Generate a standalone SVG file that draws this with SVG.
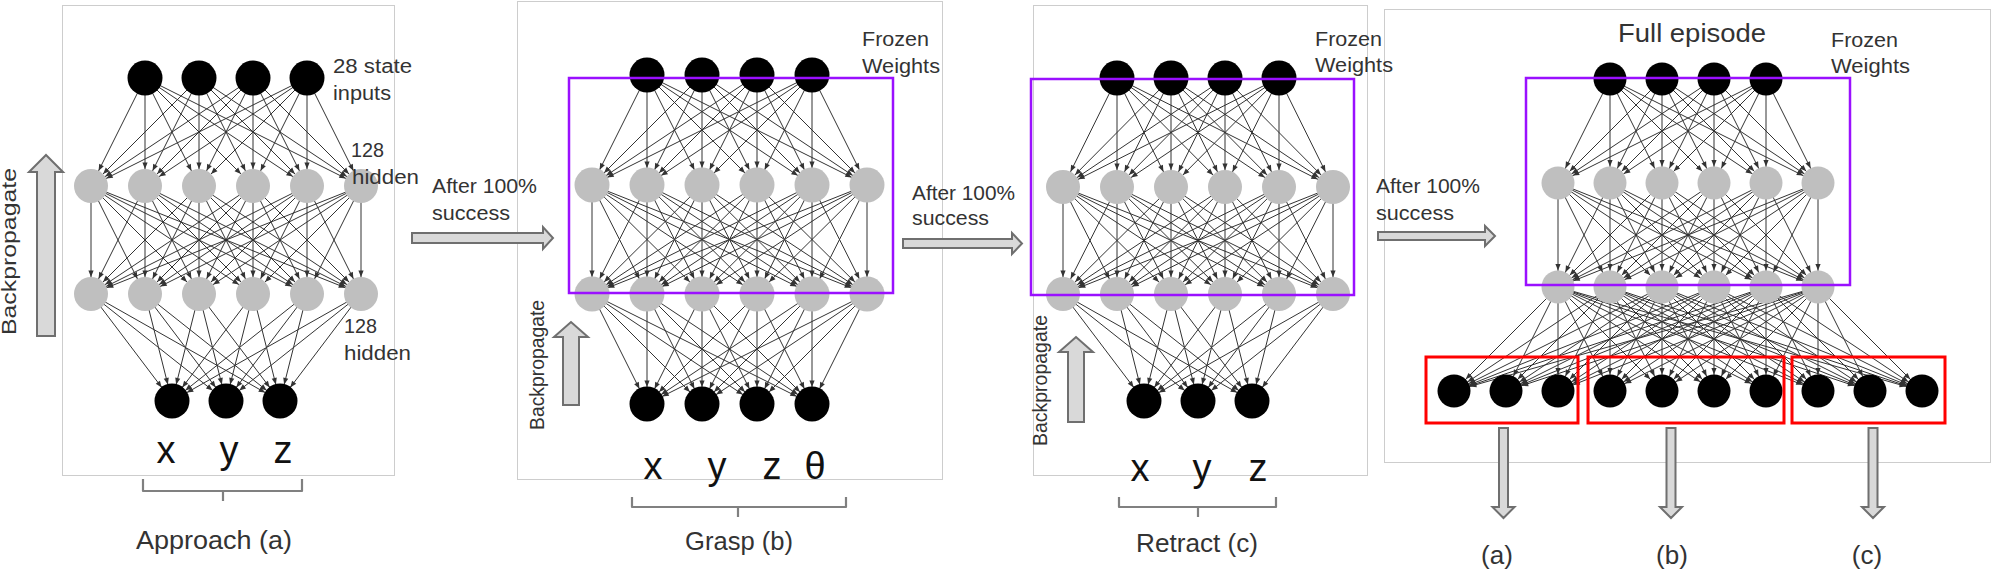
<svg xmlns="http://www.w3.org/2000/svg" width="1991" height="571" viewBox="0 0 1991 571">
<style>
.frame{fill:none;stroke:#cdcdcd;stroke-width:1}
.blk{fill:#000}
.gry{fill:#bfbfbf}
.e path{fill:none;stroke:#333;stroke-width:1;marker-end:url(#ah)}
.e4 path{fill:none;stroke:#333;stroke-width:1;marker-end:url(#ah4)}
.purple{fill:none;stroke:#9a10ff;stroke-width:2.5}
.red{fill:none;stroke:#ff0000;stroke-width:3}
.big{fill:#d9d9d9;stroke:#6f6f6f;stroke-width:2}
.brk{fill:none;stroke:#808080;stroke-width:2.2;stroke-linejoin:round}
.t{font-family:"Liberation Sans",Arial,sans-serif;fill:#333;font-size:20px}
.lab{font-family:"Liberation Sans",Arial,sans-serif;fill:#333;font-size:26px;text-anchor:middle}
.var{font-family:"Liberation Sans",Arial,sans-serif;fill:#111;font-size:38px;text-anchor:middle}
</style>
<defs>
<marker id="ah" markerUnits="userSpaceOnUse" markerWidth="8" markerHeight="8" refX="17" refY="0" orient="auto" overflow="visible"><path d="M0,0L-6.5,-2.6L-6.5,2.6Z" fill="#333"/></marker>
<marker id="ah4" markerUnits="userSpaceOnUse" markerWidth="8" markerHeight="8" refX="16.5" refY="0" orient="auto" overflow="visible"><path d="M0,0L-6.5,-2.6L-6.5,2.6Z" fill="#333"/></marker>
</defs>
<rect width="1991" height="571" fill="#fff"/>
<g id="frames">
<rect class="frame" x="62.5" y="5.5" width="332" height="470"/>
<rect class="frame" x="517.5" y="1.5" width="425" height="478"/>
<rect class="frame" x="1033.5" y="5.5" width="334" height="470"/>
<rect class="frame" x="1384.5" y="9.5" width="606" height="453"/>
</g>
<g id="connectors">
<g id="p1-edges" class="e" transform="translate(226,0)">
<path d="M-81 78L-135 186"/><path d="M-81 78L-81 186"/><path d="M-81 78L-27 186"/><path d="M-81 78L27 186"/><path d="M-81 78L81 186"/><path d="M-81 78L135 186"/>
<path d="M-27 78L-135 186"/><path d="M-27 78L-81 186"/><path d="M-27 78L-27 186"/><path d="M-27 78L27 186"/><path d="M-27 78L81 186"/><path d="M-27 78L135 186"/>
<path d="M27 78L-135 186"/><path d="M27 78L-81 186"/><path d="M27 78L-27 186"/><path d="M27 78L27 186"/><path d="M27 78L81 186"/><path d="M27 78L135 186"/>
<path d="M81 78L-135 186"/><path d="M81 78L-81 186"/><path d="M81 78L-27 186"/><path d="M81 78L27 186"/><path d="M81 78L81 186"/><path d="M81 78L135 186"/>
<path d="M-135 186L-135 294"/><path d="M-135 186L-81 294"/><path d="M-135 186L-27 294"/><path d="M-135 186L27 294"/><path d="M-135 186L81 294"/><path d="M-135 186L135 294"/>
<path d="M-81 186L-135 294"/><path d="M-81 186L-81 294"/><path d="M-81 186L-27 294"/><path d="M-81 186L27 294"/><path d="M-81 186L81 294"/><path d="M-81 186L135 294"/>
<path d="M-27 186L-135 294"/><path d="M-27 186L-81 294"/><path d="M-27 186L-27 294"/><path d="M-27 186L27 294"/><path d="M-27 186L81 294"/><path d="M-27 186L135 294"/>
<path d="M27 186L-135 294"/><path d="M27 186L-81 294"/><path d="M27 186L-27 294"/><path d="M27 186L27 294"/><path d="M27 186L81 294"/><path d="M27 186L135 294"/>
<path d="M81 186L-135 294"/><path d="M81 186L-81 294"/><path d="M81 186L-27 294"/><path d="M81 186L27 294"/><path d="M81 186L81 294"/><path d="M81 186L135 294"/>
<path d="M135 186L-135 294"/><path d="M135 186L-81 294"/><path d="M135 186L-27 294"/><path d="M135 186L27 294"/><path d="M135 186L81 294"/><path d="M135 186L135 294"/>
<path d="M-135 294L-54 401"/><path d="M-135 294L0 401"/><path d="M-135 294L54 401"/>
<path d="M-81 294L-54 401"/><path d="M-81 294L0 401"/><path d="M-81 294L54 401"/>
<path d="M-27 294L-54 401"/><path d="M-27 294L0 401"/><path d="M-27 294L54 401"/>
<path d="M27 294L-54 401"/><path d="M27 294L0 401"/><path d="M27 294L54 401"/>
<path d="M81 294L-54 401"/><path d="M81 294L0 401"/><path d="M81 294L54 401"/>
<path d="M135 294L-54 401"/><path d="M135 294L0 401"/><path d="M135 294L54 401"/>
</g>
<g id="p2-edges" class="e" transform="translate(729.5,0)">
<path d="M-82.5 75L-137.5 185"/><path d="M-82.5 75L-82.5 185"/><path d="M-82.5 75L-27.5 185"/><path d="M-82.5 75L27.5 185"/><path d="M-82.5 75L82.5 185"/><path d="M-82.5 75L137.5 185"/>
<path d="M-27.5 75L-137.5 185"/><path d="M-27.5 75L-82.5 185"/><path d="M-27.5 75L-27.5 185"/><path d="M-27.5 75L27.5 185"/><path d="M-27.5 75L82.5 185"/><path d="M-27.5 75L137.5 185"/>
<path d="M27.5 75L-137.5 185"/><path d="M27.5 75L-82.5 185"/><path d="M27.5 75L-27.5 185"/><path d="M27.5 75L27.5 185"/><path d="M27.5 75L82.5 185"/><path d="M27.5 75L137.5 185"/>
<path d="M82.5 75L-137.5 185"/><path d="M82.5 75L-82.5 185"/><path d="M82.5 75L-27.5 185"/><path d="M82.5 75L27.5 185"/><path d="M82.5 75L82.5 185"/><path d="M82.5 75L137.5 185"/>
<path d="M-137.5 185L-137.5 294"/><path d="M-137.5 185L-82.5 294"/><path d="M-137.5 185L-27.5 294"/><path d="M-137.5 185L27.5 294"/><path d="M-137.5 185L82.5 294"/><path d="M-137.5 185L137.5 294"/>
<path d="M-82.5 185L-137.5 294"/><path d="M-82.5 185L-82.5 294"/><path d="M-82.5 185L-27.5 294"/><path d="M-82.5 185L27.5 294"/><path d="M-82.5 185L82.5 294"/><path d="M-82.5 185L137.5 294"/>
<path d="M-27.5 185L-137.5 294"/><path d="M-27.5 185L-82.5 294"/><path d="M-27.5 185L-27.5 294"/><path d="M-27.5 185L27.5 294"/><path d="M-27.5 185L82.5 294"/><path d="M-27.5 185L137.5 294"/>
<path d="M27.5 185L-137.5 294"/><path d="M27.5 185L-82.5 294"/><path d="M27.5 185L-27.5 294"/><path d="M27.5 185L27.5 294"/><path d="M27.5 185L82.5 294"/><path d="M27.5 185L137.5 294"/>
<path d="M82.5 185L-137.5 294"/><path d="M82.5 185L-82.5 294"/><path d="M82.5 185L-27.5 294"/><path d="M82.5 185L27.5 294"/><path d="M82.5 185L82.5 294"/><path d="M82.5 185L137.5 294"/>
<path d="M137.5 185L-137.5 294"/><path d="M137.5 185L-82.5 294"/><path d="M137.5 185L-27.5 294"/><path d="M137.5 185L27.5 294"/><path d="M137.5 185L82.5 294"/><path d="M137.5 185L137.5 294"/>
<path d="M-137.5 294L-82.5 404"/><path d="M-137.5 294L-27.5 404"/><path d="M-137.5 294L27.5 404"/><path d="M-137.5 294L82.5 404"/>
<path d="M-82.5 294L-82.5 404"/><path d="M-82.5 294L-27.5 404"/><path d="M-82.5 294L27.5 404"/><path d="M-82.5 294L82.5 404"/>
<path d="M-27.5 294L-82.5 404"/><path d="M-27.5 294L-27.5 404"/><path d="M-27.5 294L27.5 404"/><path d="M-27.5 294L82.5 404"/>
<path d="M27.5 294L-82.5 404"/><path d="M27.5 294L-27.5 404"/><path d="M27.5 294L27.5 404"/><path d="M27.5 294L82.5 404"/>
<path d="M82.5 294L-82.5 404"/><path d="M82.5 294L-27.5 404"/><path d="M82.5 294L27.5 404"/><path d="M82.5 294L82.5 404"/>
<path d="M137.5 294L-82.5 404"/><path d="M137.5 294L-27.5 404"/><path d="M137.5 294L27.5 404"/><path d="M137.5 294L82.5 404"/>
</g>
<g id="p3-edges" class="e" transform="translate(1198,0)">
<path d="M-81 78L-135 187"/><path d="M-81 78L-81 187"/><path d="M-81 78L-27 187"/><path d="M-81 78L27 187"/><path d="M-81 78L81 187"/><path d="M-81 78L135 187"/>
<path d="M-27 78L-135 187"/><path d="M-27 78L-81 187"/><path d="M-27 78L-27 187"/><path d="M-27 78L27 187"/><path d="M-27 78L81 187"/><path d="M-27 78L135 187"/>
<path d="M27 78L-135 187"/><path d="M27 78L-81 187"/><path d="M27 78L-27 187"/><path d="M27 78L27 187"/><path d="M27 78L81 187"/><path d="M27 78L135 187"/>
<path d="M81 78L-135 187"/><path d="M81 78L-81 187"/><path d="M81 78L-27 187"/><path d="M81 78L27 187"/><path d="M81 78L81 187"/><path d="M81 78L135 187"/>
<path d="M-135 187L-135 294"/><path d="M-135 187L-81 294"/><path d="M-135 187L-27 294"/><path d="M-135 187L27 294"/><path d="M-135 187L81 294"/><path d="M-135 187L135 294"/>
<path d="M-81 187L-135 294"/><path d="M-81 187L-81 294"/><path d="M-81 187L-27 294"/><path d="M-81 187L27 294"/><path d="M-81 187L81 294"/><path d="M-81 187L135 294"/>
<path d="M-27 187L-135 294"/><path d="M-27 187L-81 294"/><path d="M-27 187L-27 294"/><path d="M-27 187L27 294"/><path d="M-27 187L81 294"/><path d="M-27 187L135 294"/>
<path d="M27 187L-135 294"/><path d="M27 187L-81 294"/><path d="M27 187L-27 294"/><path d="M27 187L27 294"/><path d="M27 187L81 294"/><path d="M27 187L135 294"/>
<path d="M81 187L-135 294"/><path d="M81 187L-81 294"/><path d="M81 187L-27 294"/><path d="M81 187L27 294"/><path d="M81 187L81 294"/><path d="M81 187L135 294"/>
<path d="M135 187L-135 294"/><path d="M135 187L-81 294"/><path d="M135 187L-27 294"/><path d="M135 187L27 294"/><path d="M135 187L81 294"/><path d="M135 187L135 294"/>
<path d="M-135 294L-54 401"/><path d="M-135 294L0 401"/><path d="M-135 294L54 401"/>
<path d="M-81 294L-54 401"/><path d="M-81 294L0 401"/><path d="M-81 294L54 401"/>
<path d="M-27 294L-54 401"/><path d="M-27 294L0 401"/><path d="M-27 294L54 401"/>
<path d="M27 294L-54 401"/><path d="M27 294L0 401"/><path d="M27 294L54 401"/>
<path d="M81 294L-54 401"/><path d="M81 294L0 401"/><path d="M81 294L54 401"/>
<path d="M135 294L-54 401"/><path d="M135 294L0 401"/><path d="M135 294L54 401"/>
</g>
<g id="p4-edges" class="e4" transform="translate(1688,0)">
<path d="M-78 79L-130 183"/><path d="M-78 79L-78 183"/><path d="M-78 79L-26 183"/><path d="M-78 79L26 183"/><path d="M-78 79L78 183"/><path d="M-78 79L130 183"/>
<path d="M-26 79L-130 183"/><path d="M-26 79L-78 183"/><path d="M-26 79L-26 183"/><path d="M-26 79L26 183"/><path d="M-26 79L78 183"/><path d="M-26 79L130 183"/>
<path d="M26 79L-130 183"/><path d="M26 79L-78 183"/><path d="M26 79L-26 183"/><path d="M26 79L26 183"/><path d="M26 79L78 183"/><path d="M26 79L130 183"/>
<path d="M78 79L-130 183"/><path d="M78 79L-78 183"/><path d="M78 79L-26 183"/><path d="M78 79L26 183"/><path d="M78 79L78 183"/><path d="M78 79L130 183"/>
<path d="M-130 183L-130 287"/><path d="M-130 183L-78 287"/><path d="M-130 183L-26 287"/><path d="M-130 183L26 287"/><path d="M-130 183L78 287"/><path d="M-130 183L130 287"/>
<path d="M-78 183L-130 287"/><path d="M-78 183L-78 287"/><path d="M-78 183L-26 287"/><path d="M-78 183L26 287"/><path d="M-78 183L78 287"/><path d="M-78 183L130 287"/>
<path d="M-26 183L-130 287"/><path d="M-26 183L-78 287"/><path d="M-26 183L-26 287"/><path d="M-26 183L26 287"/><path d="M-26 183L78 287"/><path d="M-26 183L130 287"/>
<path d="M26 183L-130 287"/><path d="M26 183L-78 287"/><path d="M26 183L-26 287"/><path d="M26 183L26 287"/><path d="M26 183L78 287"/><path d="M26 183L130 287"/>
<path d="M78 183L-130 287"/><path d="M78 183L-78 287"/><path d="M78 183L-26 287"/><path d="M78 183L26 287"/><path d="M78 183L78 287"/><path d="M78 183L130 287"/>
<path d="M130 183L-130 287"/><path d="M130 183L-78 287"/><path d="M130 183L-26 287"/><path d="M130 183L26 287"/><path d="M130 183L78 287"/><path d="M130 183L130 287"/>
<path d="M-130 287L-234 391"/><path d="M-130 287L-182 391"/><path d="M-130 287L-130 391"/><path d="M-130 287L-78 391"/><path d="M-130 287L-26 391"/><path d="M-130 287L26 391"/><path d="M-130 287L78 391"/><path d="M-130 287L130 391"/><path d="M-130 287L182 391"/><path d="M-130 287L234 391"/>
<path d="M-78 287L-234 391"/><path d="M-78 287L-182 391"/><path d="M-78 287L-130 391"/><path d="M-78 287L-78 391"/><path d="M-78 287L-26 391"/><path d="M-78 287L26 391"/><path d="M-78 287L78 391"/><path d="M-78 287L130 391"/><path d="M-78 287L182 391"/><path d="M-78 287L234 391"/>
<path d="M-26 287L-234 391"/><path d="M-26 287L-182 391"/><path d="M-26 287L-130 391"/><path d="M-26 287L-78 391"/><path d="M-26 287L-26 391"/><path d="M-26 287L26 391"/><path d="M-26 287L78 391"/><path d="M-26 287L130 391"/><path d="M-26 287L182 391"/><path d="M-26 287L234 391"/>
<path d="M26 287L-234 391"/><path d="M26 287L-182 391"/><path d="M26 287L-130 391"/><path d="M26 287L-78 391"/><path d="M26 287L-26 391"/><path d="M26 287L26 391"/><path d="M26 287L78 391"/><path d="M26 287L130 391"/><path d="M26 287L182 391"/><path d="M26 287L234 391"/>
<path d="M78 287L-234 391"/><path d="M78 287L-182 391"/><path d="M78 287L-130 391"/><path d="M78 287L-78 391"/><path d="M78 287L-26 391"/><path d="M78 287L26 391"/><path d="M78 287L78 391"/><path d="M78 287L130 391"/><path d="M78 287L182 391"/><path d="M78 287L234 391"/>
<path d="M130 287L-234 391"/><path d="M130 287L-182 391"/><path d="M130 287L-130 391"/><path d="M130 287L-78 391"/><path d="M130 287L-26 391"/><path d="M130 287L26 391"/><path d="M130 287L78 391"/><path d="M130 287L130 391"/><path d="M130 287L182 391"/><path d="M130 287L234 391"/>
</g>
</g>
<g id="p1-nodes" transform="translate(226,0)">
<g id="p1-in1"><circle class="blk" cx="-81" cy="78" r="17.5"/></g>
<g id="p1-in2"><circle class="blk" cx="-27" cy="78" r="17.5"/></g>
<g id="p1-in3"><circle class="blk" cx="27" cy="78" r="17.5"/></g>
<g id="p1-in4"><circle class="blk" cx="81" cy="78" r="17.5"/></g>
<g id="p1-h1a"><circle class="gry" cx="-135" cy="186" r="17"/></g>
<g id="p1-h1b"><circle class="gry" cx="-81" cy="186" r="17"/></g>
<g id="p1-h1c"><circle class="gry" cx="-27" cy="186" r="17"/></g>
<g id="p1-h1d"><circle class="gry" cx="27" cy="186" r="17"/></g>
<g id="p1-h1e"><circle class="gry" cx="81" cy="186" r="17"/></g>
<g id="p1-h1f"><circle class="gry" cx="135" cy="186" r="17"/></g>
<g id="p1-h2a"><circle class="gry" cx="-135" cy="294" r="17"/></g>
<g id="p1-h2b"><circle class="gry" cx="-81" cy="294" r="17"/></g>
<g id="p1-h2c"><circle class="gry" cx="-27" cy="294" r="17"/></g>
<g id="p1-h2d"><circle class="gry" cx="27" cy="294" r="17"/></g>
<g id="p1-h2e"><circle class="gry" cx="81" cy="294" r="17"/></g>
<g id="p1-h2f"><circle class="gry" cx="135" cy="294" r="17"/></g>
<g id="p1-out1"><circle class="blk" cx="-54" cy="401" r="17.5"/></g>
<g id="p1-out2"><circle class="blk" cx="0" cy="401" r="17.5"/></g>
<g id="p1-out3"><circle class="blk" cx="54" cy="401" r="17.5"/></g>
</g>
<g id="p2-nodes" transform="translate(729.5,0)">
<g id="p2-in1"><circle class="blk" cx="-82.5" cy="75" r="17.5"/></g>
<g id="p2-in2"><circle class="blk" cx="-27.5" cy="75" r="17.5"/></g>
<g id="p2-in3"><circle class="blk" cx="27.5" cy="75" r="17.5"/></g>
<g id="p2-in4"><circle class="blk" cx="82.5" cy="75" r="17.5"/></g>
<g id="p2-h1a"><circle class="gry" cx="-137.5" cy="185" r="17.5"/></g>
<g id="p2-h1b"><circle class="gry" cx="-82.5" cy="185" r="17.5"/></g>
<g id="p2-h1c"><circle class="gry" cx="-27.5" cy="185" r="17.5"/></g>
<g id="p2-h1d"><circle class="gry" cx="27.5" cy="185" r="17.5"/></g>
<g id="p2-h1e"><circle class="gry" cx="82.5" cy="185" r="17.5"/></g>
<g id="p2-h1f"><circle class="gry" cx="137.5" cy="185" r="17.5"/></g>
<g id="p2-h2a"><circle class="gry" cx="-137.5" cy="294" r="17.5"/></g>
<g id="p2-h2b"><circle class="gry" cx="-82.5" cy="294" r="17.5"/></g>
<g id="p2-h2c"><circle class="gry" cx="-27.5" cy="294" r="17.5"/></g>
<g id="p2-h2d"><circle class="gry" cx="27.5" cy="294" r="17.5"/></g>
<g id="p2-h2e"><circle class="gry" cx="82.5" cy="294" r="17.5"/></g>
<g id="p2-h2f"><circle class="gry" cx="137.5" cy="294" r="17.5"/></g>
<g id="p2-out1"><circle class="blk" cx="-82.5" cy="404" r="17.5"/></g>
<g id="p2-out2"><circle class="blk" cx="-27.5" cy="404" r="17.5"/></g>
<g id="p2-out3"><circle class="blk" cx="27.5" cy="404" r="17.5"/></g>
<g id="p2-out4"><circle class="blk" cx="82.5" cy="404" r="17.5"/></g>
</g>
<g id="p3-nodes" transform="translate(1198,0)">
<g id="p3-in1"><circle class="blk" cx="-81" cy="78" r="17.5"/></g>
<g id="p3-in2"><circle class="blk" cx="-27" cy="78" r="17.5"/></g>
<g id="p3-in3"><circle class="blk" cx="27" cy="78" r="17.5"/></g>
<g id="p3-in4"><circle class="blk" cx="81" cy="78" r="17.5"/></g>
<g id="p3-h1a"><circle class="gry" cx="-135" cy="187" r="17"/></g>
<g id="p3-h1b"><circle class="gry" cx="-81" cy="187" r="17"/></g>
<g id="p3-h1c"><circle class="gry" cx="-27" cy="187" r="17"/></g>
<g id="p3-h1d"><circle class="gry" cx="27" cy="187" r="17"/></g>
<g id="p3-h1e"><circle class="gry" cx="81" cy="187" r="17"/></g>
<g id="p3-h1f"><circle class="gry" cx="135" cy="187" r="17"/></g>
<g id="p3-h2a"><circle class="gry" cx="-135" cy="294" r="17"/></g>
<g id="p3-h2b"><circle class="gry" cx="-81" cy="294" r="17"/></g>
<g id="p3-h2c"><circle class="gry" cx="-27" cy="294" r="17"/></g>
<g id="p3-h2d"><circle class="gry" cx="27" cy="294" r="17"/></g>
<g id="p3-h2e"><circle class="gry" cx="81" cy="294" r="17"/></g>
<g id="p3-h2f"><circle class="gry" cx="135" cy="294" r="17"/></g>
<g id="p3-out1"><circle class="blk" cx="-54" cy="401" r="17.5"/></g>
<g id="p3-out2"><circle class="blk" cx="0" cy="401" r="17.5"/></g>
<g id="p3-out3"><circle class="blk" cx="54" cy="401" r="17.5"/></g>
</g>
<g id="p4-nodes" transform="translate(1688,0)">
<g id="p4-in1"><circle class="blk" cx="-78" cy="79" r="16.5"/></g>
<g id="p4-in2"><circle class="blk" cx="-26" cy="79" r="16.5"/></g>
<g id="p4-in3"><circle class="blk" cx="26" cy="79" r="16.5"/></g>
<g id="p4-in4"><circle class="blk" cx="78" cy="79" r="16.5"/></g>
<g id="p4-h1a"><circle class="gry" cx="-130" cy="183" r="16.5"/></g>
<g id="p4-h1b"><circle class="gry" cx="-78" cy="183" r="16.5"/></g>
<g id="p4-h1c"><circle class="gry" cx="-26" cy="183" r="16.5"/></g>
<g id="p4-h1d"><circle class="gry" cx="26" cy="183" r="16.5"/></g>
<g id="p4-h1e"><circle class="gry" cx="78" cy="183" r="16.5"/></g>
<g id="p4-h1f"><circle class="gry" cx="130" cy="183" r="16.5"/></g>
<g id="p4-h2a"><circle class="gry" cx="-130" cy="287" r="16.5"/></g>
<g id="p4-h2b"><circle class="gry" cx="-78" cy="287" r="16.5"/></g>
<g id="p4-h2c"><circle class="gry" cx="-26" cy="287" r="16.5"/></g>
<g id="p4-h2d"><circle class="gry" cx="26" cy="287" r="16.5"/></g>
<g id="p4-h2e"><circle class="gry" cx="78" cy="287" r="16.5"/></g>
<g id="p4-h2f"><circle class="gry" cx="130" cy="287" r="16.5"/></g>
<g id="p4-out1"><circle class="blk" cx="-234" cy="391" r="16.5"/></g>
<g id="p4-out2"><circle class="blk" cx="-182" cy="391" r="16.5"/></g>
<g id="p4-out3"><circle class="blk" cx="-130" cy="391" r="16.5"/></g>
<g id="p4-out4"><circle class="blk" cx="-78" cy="391" r="16.5"/></g>
<g id="p4-out5"><circle class="blk" cx="-26" cy="391" r="16.5"/></g>
<g id="p4-out6"><circle class="blk" cx="26" cy="391" r="16.5"/></g>
<g id="p4-out7"><circle class="blk" cx="78" cy="391" r="16.5"/></g>
<g id="p4-out8"><circle class="blk" cx="130" cy="391" r="16.5"/></g>
<g id="p4-out9"><circle class="blk" cx="182" cy="391" r="16.5"/></g>
<g id="p4-out10"><circle class="blk" cx="234" cy="391" r="16.5"/></g>
</g>
<g id="highlight-boxes">
<rect class="purple" x="569" y="78" width="324" height="215"/>
<rect class="purple" x="1031" y="79" width="323" height="216"/>
<rect class="purple" x="1526" y="78" width="324" height="207"/>
<rect class="red" x="1426" y="357" width="152" height="66"/>
<rect class="red" x="1588" y="357" width="196" height="66"/>
<rect class="red" x="1792" y="357" width="153" height="66"/>
</g>
<g id="block-arrows">
<path class="big" d="M37,336V172H29L46,155L63,172H55V336Z"/>
<path class="big" d="M563,405V337H554L571,322L588,337H579V405Z"/>
<path class="big" d="M1068,422V352H1059L1076,337L1093,352H1084V422Z"/>
<path class="big" d="M412,233H543V227L553,238L543,249V243H412Z"/>
<path class="big" d="M903,239H1012V233L1022,243.5L1012,254V248H903Z"/>
<path class="big" d="M1378,232H1485V226L1495,236L1485,246V240H1378Z"/>
<path class="big" d="M1499,428H1508V507H1514.5L1503.5,518L1492.5,507H1499Z"/>
<path class="big" d="M1666.5,428H1675.5V507H1682L1671,518L1660,507H1666.5Z"/>
<path class="big" d="M1868.5,428H1877.5V507H1884L1873,518L1862,507H1868.5Z"/>
</g>
<g id="brackets">
<path class="brk" d="M143,479V491H302V479M223,491V501"/>
<path class="brk" d="M632,497V507H846V497M738,507V517"/>
<path class="brk" d="M1119,497V507H1276V497M1198,507V517"/>
</g>
<g id="labels">
<text class="t" font-size="22" text-anchor="middle" textLength="167" lengthAdjust="spacingAndGlyphs" transform="translate(16,251.5) rotate(-90)">Backpropagate</text>
<text class="t" font-size="16" text-anchor="middle" textLength="130" lengthAdjust="spacingAndGlyphs" transform="translate(544,365) rotate(-90)">Backpropagate</text>
<text class="t" font-size="16" text-anchor="middle" textLength="131" lengthAdjust="spacingAndGlyphs" transform="translate(1047,380.5) rotate(-90)">Backpropagate</text>
<text class="t" x="333" y="73" textLength="79" lengthAdjust="spacingAndGlyphs">28 state</text>
<text class="t" x="333" y="100" textLength="58" lengthAdjust="spacingAndGlyphs">inputs</text>
<text class="t" x="351" y="157" textLength="33" lengthAdjust="spacingAndGlyphs">128</text>
<text class="t" x="352" y="184" textLength="67" lengthAdjust="spacingAndGlyphs">hidden</text>
<text class="t" x="344" y="333" textLength="33" lengthAdjust="spacingAndGlyphs">128</text>
<text class="t" x="344" y="360" textLength="67" lengthAdjust="spacingAndGlyphs">hidden</text>
<text class="t" x="862" y="46" textLength="67" lengthAdjust="spacingAndGlyphs">Frozen</text>
<text class="t" x="862" y="73" textLength="78" lengthAdjust="spacingAndGlyphs">Weights</text>
<text class="t" x="1315" y="46" textLength="67" lengthAdjust="spacingAndGlyphs">Frozen</text>
<text class="t" x="1315" y="72" textLength="78" lengthAdjust="spacingAndGlyphs">Weights</text>
<text class="t" x="1831" y="47" textLength="67" lengthAdjust="spacingAndGlyphs">Frozen</text>
<text class="t" x="1831" y="73" textLength="79" lengthAdjust="spacingAndGlyphs">Weights</text>
<text class="lab" x="1692" y="42" textLength="148" lengthAdjust="spacingAndGlyphs">Full episode</text>
<text class="t" x="432" y="193" textLength="105" lengthAdjust="spacingAndGlyphs">After 100%</text>
<text class="t" x="432" y="220" textLength="78" lengthAdjust="spacingAndGlyphs">success</text>
<text class="t" x="912" y="200" textLength="103" lengthAdjust="spacingAndGlyphs">After 100%</text>
<text class="t" x="912" y="225" textLength="77" lengthAdjust="spacingAndGlyphs">success</text>
<text class="t" x="1376" y="193" textLength="104" lengthAdjust="spacingAndGlyphs">After 100%</text>
<text class="t" x="1376" y="220" textLength="78" lengthAdjust="spacingAndGlyphs">success</text>
<text class="var" x="166" y="463">x</text>
<text class="var" x="229" y="463">y</text>
<text class="var" x="283" y="463">z</text>
<text class="var" x="653" y="479">x</text>
<text class="var" x="717" y="479">y</text>
<text class="var" x="772" y="479">z</text>
<text class="var" x="815" y="479">θ</text>
<text class="var" x="1140" y="481">x</text>
<text class="var" x="1202" y="481">y</text>
<text class="var" x="1258" y="481">z</text>
<text class="lab" x="214" y="549" textLength="156" lengthAdjust="spacingAndGlyphs">Approach (a)</text>
<text class="lab" x="739" y="550" textLength="108" lengthAdjust="spacingAndGlyphs">Grasp (b)</text>
<text class="lab" x="1197" y="552" textLength="122" lengthAdjust="spacingAndGlyphs">Retract (c)</text>
<text class="lab" x="1497" y="564">(a)</text>
<text class="lab" x="1672" y="564">(b)</text>
<text class="lab" x="1867" y="564">(c)</text>
</g>
</svg>
